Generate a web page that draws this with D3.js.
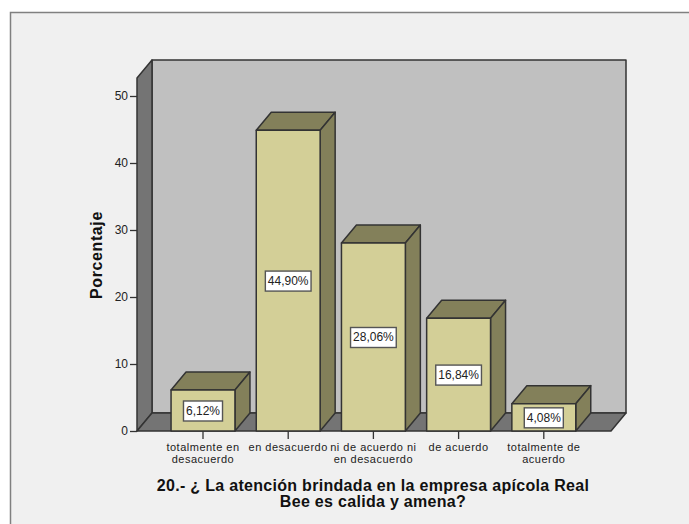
<!DOCTYPE html>
<html><head><meta charset="utf-8">
<script src="https://cdnjs.cloudflare.com/ajax/libs/d3/7.8.5/d3.min.js"></script>
<style>html,body{margin:0;padding:0;background:#fff}svg{display:block}text{font-family:"Liberation Sans",Arial,sans-serif}</style>
</head><body><div id="c"></div>
<script>
const categories = ["totalmente en desacuerdo","en desacuerdo","ni de acuerdo ni en desacuerdo","de acuerdo","totalmente de acuerdo"];
const categoryLines = [["totalmente en","desacuerdo"],["en desacuerdo"],["ni de acuerdo ni","en desacuerdo"],["de acuerdo"],["totalmente de","acuerdo"]];
const values = [6.12,44.90,28.06,16.84,4.08];
const valueLabels = ["6,12%","44,90%","28,06%","16,84%","4,08%"];
const yTicks = [0,10,20,30,40,50];
const titleLines = ["20.- ¿ La atención brindada en la empresa apícola Real","Bee es calida y amena?"];
const yTitle = "Porcentaje";

const W=689,H=524;
const svg=d3.select("#c").append("svg").attr("width",W).attr("height",H);
svg.append("rect").attr("x",10.5).attr("y",12.5).attr("width",W).attr("height",H).attr("fill","#f0f0f0").attr("stroke","#808080").attr("stroke-width",1.5);

const y=d3.scaleLinear().domain([0,50]).range([431,96]);
const x=d3.scaleBand().domain(categories).range([160.4,586.4]).paddingInner(0.25).paddingOuter(0.125);
const dx=15,dy=-18, plotLeft=137,plotRight=611,plotTop=78,base=y(0);
const stroke="#333";
const poly=(pts,fill)=>svg.append("polygon").attr("points",pts.map(p=>p.join(",")).join(" ")).attr("fill",fill).attr("stroke",stroke).attr("stroke-width",1.5).attr("stroke-linejoin","round");

// back wall, side wall, floor
poly([[plotLeft+dx,plotTop+dy],[plotRight+dx,plotTop+dy],[plotRight+dx,base+dy],[plotLeft+dx,base+dy]],"#c0c0c0");
poly([[plotLeft,plotTop],[plotLeft+dx,plotTop+dy],[plotLeft+dx,base+dy],[plotLeft,base]],"#747474");
poly([[plotLeft,base],[plotLeft+dx,base+dy],[plotRight+dx,base+dy],[plotRight,base]],"#747474");

// y axis
svg.append("g").attr("transform",`translate(${plotLeft},0)`)
  .call(d3.axisLeft(y).tickValues(yTicks).tickSize(7).tickPadding(2))
  .call(g=>g.select(".domain").remove())
  .call(g=>g.selectAll("line").attr("stroke",stroke).attr("stroke-width",1.3))
  .call(g=>g.selectAll("text").attr("font-size",12).attr("fill","#222").style("font-family",'"Liberation Sans",Arial,sans-serif'));

// x axis ticks
svg.append("g").attr("transform",`translate(0,${base})`)
  .call(d3.axisBottom(x).tickSize(8).tickFormat(""))
  .call(g=>g.select(".domain").remove())
  .call(g=>g.selectAll("line").attr("stroke",stroke).attr("stroke-width",1.3));

// bars
categories.forEach((c,i)=>{
  const x0=x(c),w=x.bandwidth(),t=y(values[i]);
  poly([[x0,t],[x0+dx,t+dy],[x0+w+dx,t+dy],[x0+w,t]],"#83805a");
  poly([[x0+w,t],[x0+w+dx,t+dy],[x0+w+dx,base+dy],[x0+w,base]],"#83805a");
  poly([[x0,t],[x0+w,t],[x0+w,base],[x0,base]],"#d3cf97");
});

// value labels
categories.forEach((c,i)=>{
  const cx=x(c)+x.bandwidth()/2, cy=y(values[i]/2)+0.5;
  const g=svg.append("g");
  const tx=g.append("text").attr("x",cx).attr("y",cy+4).attr("text-anchor","middle").attr("font-size",12).attr("fill","#222").text(valueLabels[i]);
  const w=tx.node().getComputedTextLength()+5;
  g.insert("rect","text").attr("x",cx-w/2).attr("y",cy-10).attr("width",w).attr("height",20).attr("fill","#fff").attr("stroke","#555").attr("stroke-width",1.4);
});

// category labels
categories.forEach((c,i)=>{
  categoryLines[i].forEach((l,j)=>{
    svg.append("text").attr("x",x(c)+x.bandwidth()/2).attr("y",450.5+j*12.7).attr("text-anchor","middle").attr("font-size",11).attr("letter-spacing",0.5).attr("fill","#222").text(l);
  });
});

// titles
titleLines.forEach((l,j)=>{
  svg.append("text").attr("x",373).attr("y",491+j*15.5).attr("text-anchor","middle").attr("font-size",16).attr("letter-spacing",0.3).attr("font-weight","bold").attr("fill","#111").text(l);
});
svg.append("text").attr("transform","translate(102,255) rotate(-90)").attr("text-anchor","middle").attr("font-size",16).attr("letter-spacing",0.6).attr("font-weight","bold").attr("fill","#111").text(yTitle);
</script></body></html>
